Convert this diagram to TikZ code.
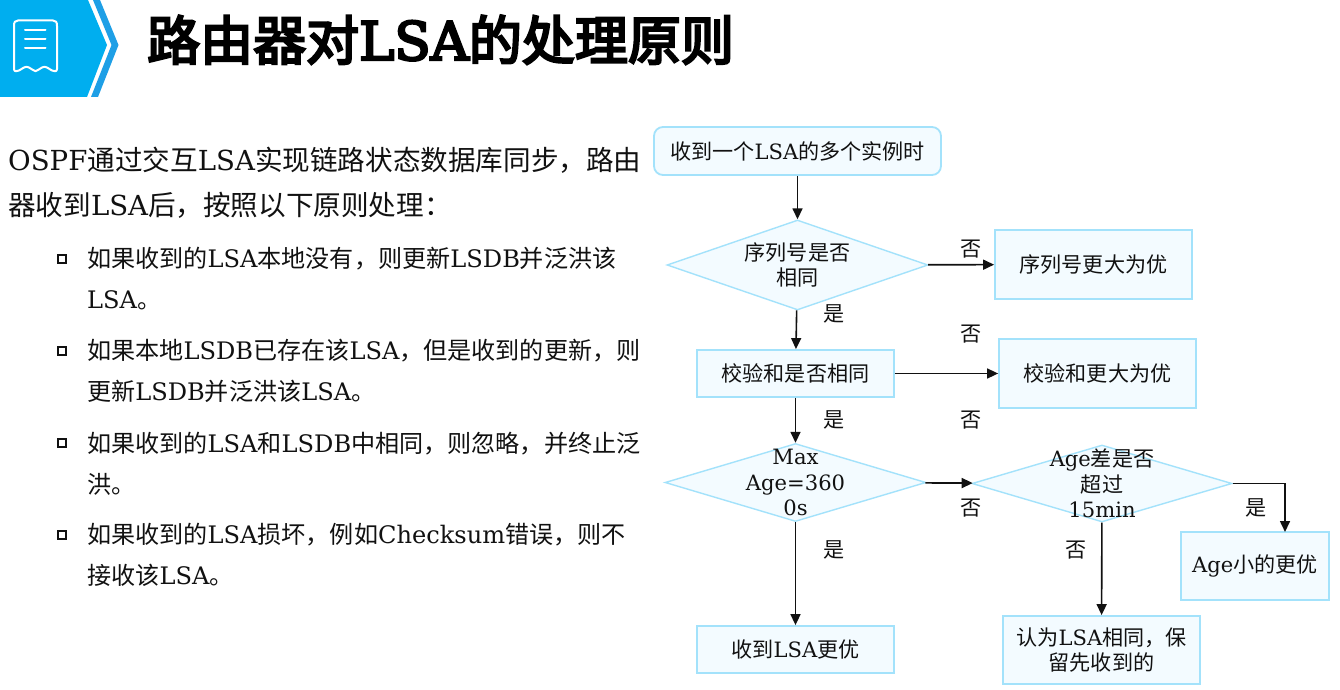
\documentclass[tikz,border=0pt]{standalone}
\usepackage{fontspec}
\setmainfont{DejaVu Serif}
\newfontfamily\cjk{Noto Sans CJK SC}
\newfontfamily\titlecjk[FakeBold=4.5]{Noto Sans CJK SC}
\newfontfamily\titlelat[FakeBold=4.5]{DejaVu Serif}
\newcommand\zh[1]{{\cjk #1}}
\newcommand\ttl[1]{{\titlecjk #1}}
\usetikzlibrary{shapes.geometric,arrows.meta}
\definecolor{hdr}{HTML}{00AEEF}
\definecolor{chev}{HTML}{1E9FE6}
\definecolor{edge}{HTML}{A3E2FB}
\definecolor{pale}{HTML}{F3FBFF}
\definecolor{ink}{HTML}{111111}
\tikzset{
 x=1pt,y=-1pt,
 para/.style={anchor=base west,inner sep=0pt,text=ink,font=\fontsize{27.6}{30}\selectfont},
 item/.style={anchor=base west,inner sep=0pt,text=ink,font=\fontsize{24.1}{28}\selectfont},
 flowtxt/.style={text=ink,font=\fontsize{21.1}{25.5}\selectfont,align=center,inner sep=0pt},
 rbox/.style={flowtxt,draw=edge,fill=pale,line width=1.8pt},
 dia/.style={diamond,aspect=2.9,draw=edge,fill=pale,line width=1.4pt,inner sep=0pt},
 lab/.style={text=ink,font=\fontsize{21.1}{24}\selectfont\cjk,inner sep=0pt},
 arr/.style={draw=ink,line width=1.6pt,-{Triangle[length=11pt,width=10pt]}},
 bul/.style={draw=ink,line width=1.2pt,fill=white,minimum size=8pt,inner sep=0pt},
}
\begin{document}
\begin{tikzpicture}
\useasboundingbox (0,0) rectangle (1340,690);
\fill[white] (0,0) rectangle (1340,690);
% header
\fill[hdr] (0,0) -- (88,0) -- (107,45) -- (87,97) -- (0,97) -- cycle;
\fill[chev] (93,0) -- (100,0) -- (118.5,45) -- (98,97) -- (91,97) -- (111.5,45) -- cycle;
\draw[white,line width=2pt,line join=round] (14,26) .. controls (14,22) and (15,20.5) .. (18,20.5) -- (53,20.5) .. controls (56,20.5) and (57,22) .. (57,26) -- (57,69) .. controls (57,72) and (54,71.5) .. (52,70.5) -- (47,67.5) .. controls (45,66.5) and (44,66.5) .. (42,67.5) -- (38,70) .. controls (36,71.5) and (35,71.5) .. (33,70) -- (29,67.5) .. controls (27,66.5) and (26,66.5) .. (24,67.5) -- (19,70.5) .. controls (17,71.5) and (14,72) .. (14,69) -- cycle;
\draw[white,line width=2pt,line cap=round] (25,30.5) -- (45.5,30.5) (25,39.5) -- (45.5,39.5) (25,48.5) -- (45.5,48.5);
\node (title) [anchor=base west,inner sep=0pt,text=black,font=\fontsize{53}{60}\selectfont\titlelat] at (147,60) {\ttl{路由器对}LSA\ttl{的处理原则}};
% left text
\node (p1) [para] at (8,170) {OSPF\zh{通过交互}LSA\zh{实现链路状态数据库同步，路由}};
\node (p2) [para] at (8,215) {\zh{器收到}LSA\zh{后，按照以下原则处理：}};
\node (b1) [bul] at (62,259) {};
\node (l1) [item] at (87,267) {\zh{如果收到的}LSA\zh{本地没有，则更新}LSDB\zh{并泛洪该}};
\node (l2) [item] at (87,308) {LSA\zh{。}};
\node (b2) [bul] at (62,351) {};
\node (l3) [item] at (87,359) {\zh{如果本地}LSDB\zh{已存在该}LSA\zh{，但是收到的更新，则}};
\node (l4) [item] at (87,400) {\zh{更新}LSDB\zh{并泛洪该}LSA\zh{。}};
\node (b3) [bul] at (62,443) {};
\node (l5) [item] at (87,452) {\zh{如果收到的}LSA\zh{和}LSDB\zh{中相同，则忽略，并终止泛}};
\node (l6) [item] at (87,493) {\zh{洪。}};
\node (b4) [bul] at (62,535) {};
\node (l7) [item] at (87,543) {\zh{如果收到的}LSA\zh{损坏，例如}Checksum\zh{错误，则不}};
\node (l8) [item] at (87,584) {\zh{接收该}LSA\zh{。}};
% flowchart
\node (start) [rbox,rounded corners=9pt,minimum width=287pt,minimum height=48pt] at (797.5,151) {\zh{收到一个}LSA\zh{的多个实例时}};
\node (d1) [dia,minimum width=261pt,minimum height=90pt] at (797.5,265) {};
\node (d1t) [flowtxt] at (d1.center) {\zh{序列号是否}\\\zh{相同}};
\node (seq) [rbox,minimum width=197pt,minimum height=69pt] at (1093.5,264.5) {\zh{序列号更大为优}};
\node (chk) [rbox,minimum width=197pt,minimum height=47pt] at (795.5,373.5) {\zh{校验和是否相同}};
\node (chkb) [rbox,minimum width=197pt,minimum height=69pt] at (1097.5,373.5) {\zh{校验和更大为优}};
\node (d2) [dia,minimum width=261pt,minimum height=78pt] at (795.5,482.5) {};
\node (d2t) [flowtxt] at (d2.center) {Max\\Age=360\\0s};
\node (d3) [dia,minimum width=260pt,minimum height=77pt] at (1102,483.5) {};
\node (d3t) [flowtxt] at (d3.center) {Age\zh{差是否}\\\zh{超过}\\15min};
\node (age) [rbox,minimum width=148pt,minimum height=68pt] at (1255,566) {Age\zh{小的更优}};
\node (same) [rbox,minimum width=197pt,minimum height=68pt] at (1101.5,650) {\zh{认为}LSA\zh{相同，保}\\\zh{留先收到的}};
\node (lsa) [rbox,minimum width=197pt,minimum height=47pt] at (795.5,649.5) {\zh{收到}LSA\zh{更优}};
\coordinate (ageIn) at (1285,532);
\draw[arr] (start) -- (d1);
\draw[arr] (d1) -- (chk);
\draw[arr] (d1) -- (seq);
\draw[arr] (chk) -- (chkb);
\draw[arr] (chk) -- (d2);
\draw[arr] (d2) -- (d3);
\draw[arr] (d2) -- (lsa);
\draw[arr] (d3) -- (same);
\draw[arr] (d3.east) -| (ageIn);
\node (n1) [lab] at (971,249) {否};
\node (y1) [lab] at (834,314) {是};
\node (n2) [lab] at (971,334) {否};
\node (y2) [lab] at (834,420) {是};
\node (n3) [lab] at (971,420) {否};
\node (n4) [lab] at (971,508) {否};
\node (y3) [lab] at (834,550) {是};
\node (n5) [lab] at (1076,550) {否};
\node (y4) [lab] at (1256,508) {是};
\end{tikzpicture}
\end{document}
